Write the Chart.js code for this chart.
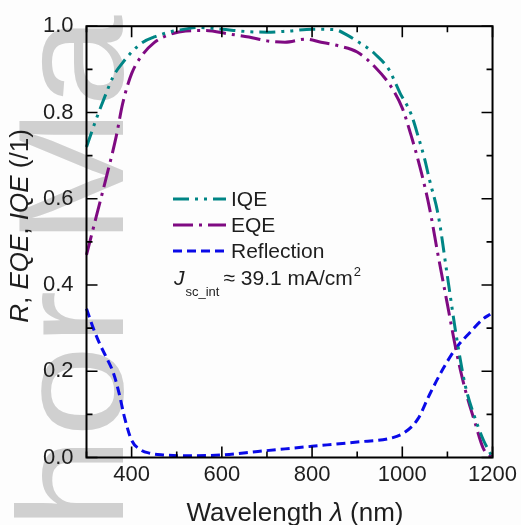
<!DOCTYPE html>
<html>
<head>
<meta charset="utf-8">
<script src="https://cdn.jsdelivr.net/npm/chart.js@4"></script>
<style>
  html, body { margin: 0; padding: 0; background: #fdfdfd; }
  #wrap { width: 521px; height: 525px; }
</style>
</head>
<body>
<div id="wrap"><canvas id="spectra" width="521" height="525"></canvas></div>
<script>
const iqeWavelength = [300, 320, 340, 360, 380, 400, 425, 450, 475, 500, 550, 600, 650, 700, 750, 800, 850, 880, 900, 920, 940, 970, 995, 1020, 1035, 1050, 1060, 1080, 1100, 1120, 1140, 1160, 1180, 1200];
const iqeValues = [0.72, 0.78, 0.835, 0.885, 0.915, 0.94, 0.963, 0.975, 0.984, 0.99, 0.997, 0.993, 0.988, 0.986, 0.989, 0.993, 0.992, 0.978, 0.965, 0.952, 0.935, 0.90, 0.845, 0.795, 0.745, 0.69, 0.645, 0.56, 0.42, 0.28, 0.165, 0.095, 0.04, 0.0];

const eqeWavelength = [300, 322, 344, 366, 380, 400, 425, 450, 475, 520, 565, 615, 660, 700, 740, 785, 820, 860, 900, 940, 975, 1000, 1020, 1040, 1060, 1080, 1100, 1120, 1140, 1160, 1180, 1200];
const eqeValues = [0.47, 0.56, 0.65, 0.745, 0.82, 0.89, 0.935, 0.962, 0.977, 0.989, 0.99, 0.982, 0.975, 0.966, 0.963, 0.97, 0.963, 0.954, 0.94, 0.905, 0.86, 0.81, 0.745, 0.67, 0.58, 0.465, 0.355, 0.245, 0.155, 0.085, 0.02, 0.0];

const reflWavelength = [300, 315, 330, 345, 360, 372, 385, 400, 420, 440, 470, 520, 600, 680, 740, 800, 900, 975, 1005, 1035, 1060, 1090, 1120, 1150, 1180, 1195];
const reflValues = [0.345, 0.30, 0.262, 0.23, 0.195, 0.15, 0.09, 0.04, 0.018, 0.01, 0.006, 0.004, 0.006, 0.014, 0.02, 0.026, 0.036, 0.045, 0.058, 0.09, 0.145, 0.205, 0.255, 0.29, 0.322, 0.332];

const xTickLabels = [400, 600, 800, 1000, 1200];
const yTickLabels = [0, 0.2, 0.4, 0.6, 0.8, 1.0];
const xMinorTicks = [300, 500, 700, 900, 1100];
const yMinorTicks = [0.1, 0.3, 0.5, 0.7, 0.9];

const fontFamily = "'Liberation Sans', Arial, sans-serif";
const textColor = '#1e1e1e';

const toPoints = (xs, ys) => xs.map((x, i) => ({ x: x, y: ys[i] }));

// draw a run of text pieces, some italic, centred on cx
function drawRich(ctx, parts, cx, y, size) {
    let total = 0;
    parts.forEach(p => {
        ctx.font = (p.italic ? 'italic ' : '') + size + 'px ' + fontFamily;
        p.w = ctx.measureText(p.t).width;
        total += p.w;
    });
    let x = cx - total / 2;
    parts.forEach(p => {
        ctx.font = (p.italic ? 'italic ' : '') + size + 'px ' + fontFamily;
        ctx.fillText(p.t, x, y);
        x += p.w;
    });
}

const decor = {
    id: 'decor',
    beforeDraw(chart) {
        const ctx = chart.ctx;
        ctx.save();
        ctx.fillStyle = '#fdfdfd';
        ctx.fillRect(0, 0, chart.width, chart.height);
        // grey watermark behind everything
        ctx.translate(123, 529);
        ctx.rotate(-Math.PI / 2);
        ctx.scale(1.1, 1);
        ctx.font = '150px ' + fontFamily;
        ctx.fillStyle = '#d0d0d0';
        ctx.textBaseline = 'alphabetic';
        ctx.fillText('hor Ma', 0, 0);
        ctx.restore();
    },
    afterDatasetsDraw(chart) {
        const ctx = chart.ctx;
        const a = chart.chartArea;
        const xs = chart.scales.x, ys = chart.scales.y;
        ctx.save();
        ctx.strokeStyle = '#000';
        ctx.lineWidth = 2;
        ctx.setLineDash([]);
        ctx.strokeRect(a.left, a.top, a.right - a.left, a.bottom - a.top);

        // inward ticks on all four sides
        ctx.lineWidth = 1.6;
        const xTick = (v, len) => {
            const px = xs.getPixelForValue(v);
            ctx.beginPath();
            ctx.moveTo(px, a.bottom); ctx.lineTo(px, a.bottom - len);
            ctx.moveTo(px, a.top); ctx.lineTo(px, a.top + len);
            ctx.stroke();
        };
        const yTick = (v, len) => {
            const py = ys.getPixelForValue(v);
            ctx.beginPath();
            ctx.moveTo(a.left, py); ctx.lineTo(a.left + len, py);
            ctx.moveTo(a.right, py); ctx.lineTo(a.right - len, py);
            ctx.stroke();
        };
        xTickLabels.forEach(v => xTick(v, 11));
        xMinorTicks.forEach(v => xTick(v, 6));
        yTickLabels.forEach(v => yTick(v, 11));
        yMinorTicks.forEach(v => yTick(v, 6));

        // legend inside the plot
        const legendY = [199, 225, 251];
        ctx.textBaseline = 'middle';
        chart.data.datasets.forEach((ds, i) => {
            ctx.strokeStyle = ds.borderColor;
            ctx.lineWidth = ds.borderWidth;
            ctx.setLineDash(ds.borderDash);
            ctx.lineDashOffset = 0;
            ctx.beginPath();
            ctx.moveTo(173, legendY[i]);
            ctx.lineTo(226, legendY[i]);
            ctx.stroke();
            ctx.setLineDash([]);
            ctx.fillStyle = textColor;
            ctx.font = '21px ' + fontFamily;
            ctx.fillText(ds.label, 231, legendY[i] + 1);
        });

        // integrated current note
        ctx.textBaseline = 'alphabetic';
        ctx.fillStyle = textColor;
        let x = 174;
        ctx.font = 'italic 21px ' + fontFamily;
        ctx.fillText('J', x, 285);
        x += ctx.measureText('J').width + 1;
        ctx.font = '13px ' + fontFamily;
        ctx.fillText('sc_int', x, 296);
        x += ctx.measureText('sc_int').width + 4;
        ctx.font = '21px ' + fontFamily;
        ctx.fillText('\u2248 39.1 mA/cm', x, 285);
        x += ctx.measureText('\u2248 39.1 mA/cm').width + 1;
        ctx.font = '13px ' + fontFamily;
        ctx.fillText('2', x, 276);

        // axis titles
        drawRich(ctx, [
            { t: 'Wavelength ' },
            { t: '\u03bb', italic: true },
            { t: ' (nm)' }
        ], 295, 521, 26);

        ctx.translate(28, 226);
        ctx.rotate(-Math.PI / 2);
        drawRich(ctx, [
            { t: 'R', italic: true },
            { t: ', ' },
            { t: 'EQE', italic: true },
            { t: ', ' },
            { t: 'IQE', italic: true },
            { t: ' (/1)' }
        ], 0, 0, 26);
        ctx.restore();
    }
};

const lineStyle = {
    borderWidth: 3,
    pointRadius: 0,
    fill: false,
    cubicInterpolationMode: 'monotone',
    borderCapStyle: 'butt',
    clip: false
};

new Chart(document.getElementById('spectra'), {
    type: 'line',
    data: {
        datasets: [
            Object.assign({
                label: 'IQE',
                data: toPoints(iqeWavelength, iqeValues),
                borderColor: '#008585',
                borderDash: [16, 6, 3, 6, 3, 6]
            }, lineStyle),
            Object.assign({
                label: 'EQE',
                data: toPoints(eqeWavelength, eqeValues),
                borderColor: '#7f0a82',
                borderDash: [20, 6, 3, 6]
            }, lineStyle),
            Object.assign({
                label: 'Reflection',
                data: toPoints(reflWavelength, reflValues),
                borderColor: '#0a0ae8',
                borderDash: [9, 5]
            }, lineStyle)
        ]
    },
    options: {
        responsive: false,
        animation: false,
        layout: { padding: { left: 0, right: 25.5, top: 20.5, bottom: 0 } },
        plugins: {
            legend: { display: false },
            tooltip: { enabled: false }
        },
        scales: {
            x: {
                type: 'linear',
                min: 300,
                max: 1200,
                grid: { display: false, drawTicks: false },
                border: { display: false },
                afterBuildTicks: s => { s.ticks = xTickLabels.map(v => ({ value: v })); },
                afterFit: s => { s.height = 67.5; },
                ticks: {
                    color: textColor,
                    font: { family: fontFamily, size: 22 },
                    padding: 4,
                    maxRotation: 0,
                    autoSkip: false,
                    callback: v => String(v)
                }
            },
            y: {
                type: 'linear',
                min: 0,
                max: 1,
                grid: { display: false, drawTicks: false },
                border: { display: false },
                afterBuildTicks: s => { s.ticks = yTickLabels.map(v => ({ value: v })); },
                afterFit: s => { s.width = 86.5; },
                ticks: {
                    color: textColor,
                    font: { family: fontFamily, size: 22 },
                    padding: 13,
                    callback: v => v.toFixed(1)
                }
            }
        }
    },
    plugins: [decor]
});
</script>
</body>
</html>
